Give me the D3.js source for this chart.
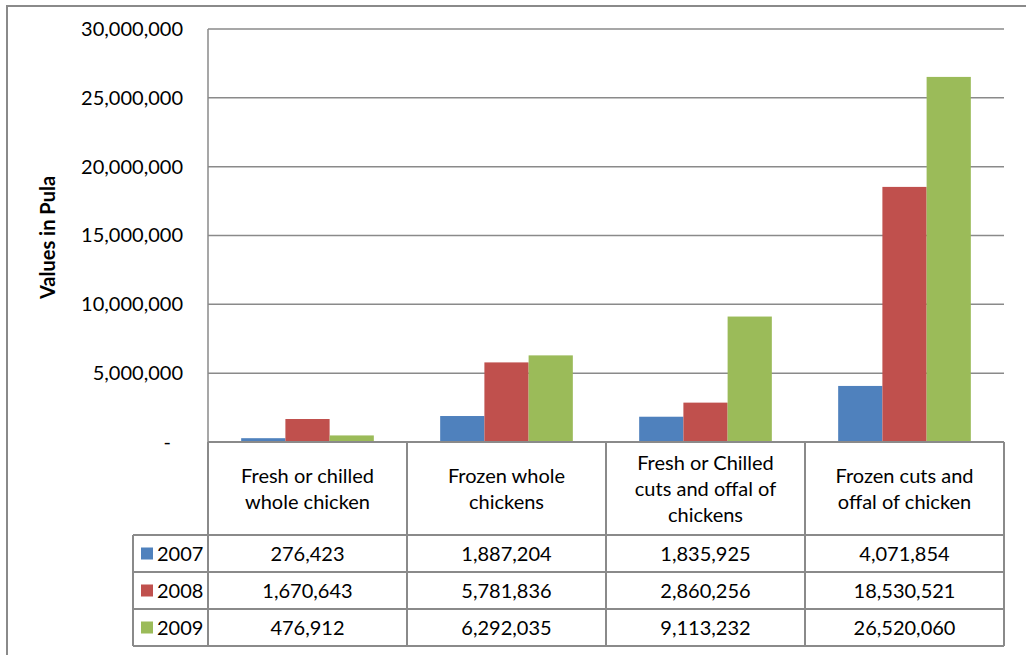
<!DOCTYPE html>
<html>
<head>
<meta charset="utf-8">
<script src="https://cdn.jsdelivr.net/npm/d3@7"></script>
<style>
  body { margin: 0; background: #fff; }
  svg { display: block; font-family: Lato, "Open Sans", sans-serif; }
</style>
</head>
<body>
<svg id="chart" width="1026" height="655"></svg>
<script>
// data
const categories = [
  ["Fresh or chilled", "whole chicken"],
  ["Frozen whole", "chickens"],
  ["Fresh or Chilled", "cuts and offal of", "chickens"],
  ["Frozen cuts and", "offal of chicken"]
];
const years = ["2007", "2008", "2009"];
const values2007 = [276423, 1887204, 1835925, 4071854];
const values2008 = [1670643, 5781836, 2860256, 18530521];
const values2009 = [476912, 6292035, 9113232, 26520060];
const yTicks = [0, 5000000, 10000000, 15000000, 20000000, 25000000, 30000000];
const colors = ["#4f81bd", "#c0504d", "#9bbb59"];

const series = [values2007, values2008, values2009];

const svg = d3.select("#chart");
const plotLeft = 208, plotRight = 1004, plotTop = 29, plotBottom = 442;
const rowH = 37, headH = 93, legendX = 133;
const gridColor = "#8a8a8a";
const fs = 20;

// outer frame (only top/left visible)
svg.append("rect")
  .attr("x", 7).attr("y", 6)
  .attr("width", 1040).attr("height", 670)
  .attr("fill", "none").attr("stroke", "#8a8a8a").attr("stroke-width", 2);

const x = d3.scaleBand().domain(d3.range(categories.length)).range([plotLeft, plotRight]);
const xInner = d3.scaleBand().domain(d3.range(years.length))
  .range([0, x.bandwidth()]).paddingOuter(0.75);
const y = d3.scaleLinear().domain([0, 30000000]).range([plotBottom, plotTop]);

// gridlines
svg.append("g").selectAll("line").data(yTicks).join("line")
  .attr("x1", plotLeft).attr("x2", plotRight)
  .attr("y1", d => y(d)).attr("y2", d => y(d))
  .attr("stroke", gridColor).attr("stroke-width", 1.5);

// y axis
const yAxis = d3.axisLeft(y).tickValues(yTicks).tickSize(0).tickPadding(25)
  .tickFormat(d => d === 0 ? "-" : d3.format(",")(d));
const ya = svg.append("g").attr("transform", `translate(${plotLeft},0)`).call(yAxis);
ya.select(".domain").remove();
ya.selectAll("text").attr("font-size", fs).attr("fill", "#000")
  .attr("font-family", "Lato, sans-serif");
ya.selectAll("text").filter(d => d === 0).attr("dx", -12);

svg.append("line").attr("x1", plotLeft).attr("x2", plotLeft).attr("y1", plotTop).attr("y2", plotBottom)
  .attr("stroke", gridColor).attr("stroke-width", 1.5);

svg.append("text")
  .attr("transform", `translate(55,${(plotTop + plotBottom) / 2 + 2}) rotate(-90)`)
  .attr("text-anchor", "middle").attr("font-weight", "bold").attr("font-size", 20)
  .text("Values in Pula");

// bars
series.forEach((vals, si) => {
  svg.append("g").selectAll("rect").data(vals).join("rect")
    .attr("x", (d, i) => x(i) + xInner(si))
    .attr("width", xInner.bandwidth())
    .attr("y", d => y(d))
    .attr("height", d => y(0) - y(d))
    .attr("fill", colors[si]);
});

// data table
const tbl = svg.append("g");
const tableBottom = plotBottom + headH + rowH * years.length;
// header cells
categories.forEach((lines, i) => {
  const cx = x(i) + x.bandwidth() / 2;
  const cy = plotBottom + headH / 2;
  const lh = 26;
  tbl.append("text").attr("text-anchor", "middle").attr("font-size", fs)
    .selectAll("tspan").data(lines).join("tspan")
    .attr("x", cx)
    .attr("y", (d, k) => cy + (k - (lines.length - 1) / 2) * lh + 7)
    .text(d => d);
});
// value rows
series.forEach((vals, si) => {
  const ry = plotBottom + headH + rowH * si;
  tbl.append("rect").attr("x", legendX + 8).attr("y", ry + rowH / 2 - 6)
    .attr("width", 12).attr("height", 12).attr("fill", colors[si]);
  tbl.append("text").attr("x", legendX + 24).attr("y", ry + rowH / 2 + 7)
    .attr("font-size", fs).text(years[si]);
  tbl.selectAll(null).data(vals).join("text")
    .attr("x", (d, i) => x(i) + x.bandwidth() / 2)
    .attr("y", ry + rowH / 2 + 7)
    .attr("text-anchor", "middle").attr("font-size", fs)
    .text(d => d3.format(",")(d));
});
// table lines
const hLines = [
  [plotLeft, plotRight, plotBottom],
  ...d3.range(years.length + 1).map(k => [legendX, plotRight, plotBottom + headH + rowH * k])
];
tbl.selectAll("line.h").data(hLines).join("line")
  .attr("x1", d => d[0]).attr("x2", d => d[1]).attr("y1", d => d[2]).attr("y2", d => d[2])
  .attr("stroke", gridColor).attr("stroke-width", 2);
const vLines = [
  [legendX, plotBottom + headH, tableBottom],
  ...d3.range(categories.length + 1).map(i => [i < categories.length ? x(i) : plotRight, plotBottom, tableBottom])
];
tbl.selectAll("line.v").data(vLines).join("line")
  .attr("x1", d => d[0]).attr("x2", d => d[0]).attr("y1", d => d[1]).attr("y2", d => d[2])
  .attr("stroke", gridColor).attr("stroke-width", 2);
</script>
</body>
</html>
